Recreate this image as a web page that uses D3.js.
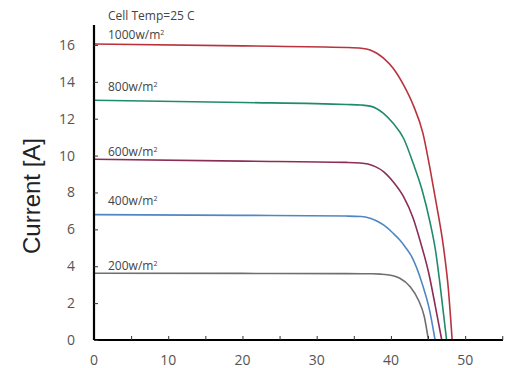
<!DOCTYPE html>
<html>
<head>
<meta charset="utf-8">
<script src="https://cdn.jsdelivr.net/npm/d3@7"></script>
<style>
  body { margin: 0; background: #fff; }
  svg { display: block; }
</style>
</head>
<body>
<svg width="512" height="368"></svg>
<script>
// I-V curves, values
const labels = ["1000w/m", "800w/m", "600w/m", "400w/m", "200w/m"];
const colors = ["#b8333d", "#1f8a6c", "#8c2d57", "#4f86c4", "#6f6f6f"];

const volt1000 = [0, 20, 34, 36.0, 37.2, 38.1, 39.0, 40.3, 41.7, 43.0, 44.3, 45.3, 46.2, 47.1, 47.75, 48.25];
const amp1000  = [16.05, 15.95, 15.86, 15.82, 15.73, 15.55, 15.28, 14.73, 13.83, 12.74, 11.23, 9.22, 7.21, 4.99, 2.71, 0];

const volt800 = [0, 20, 34, 36.0, 37.2, 38.1, 39.0, 40.3, 41.7, 43.0, 44.2, 45.3, 46.0, 46.6, 47.5];
const amp800  = [13.0, 12.88, 12.77, 12.74, 12.68, 12.54, 12.29, 11.75, 10.94, 9.58, 8.13, 6.33, 4.88, 3.07, 0];

const volt600 = [0, 20, 34, 35.8, 36.9, 37.9, 39.0, 40.3, 41.7, 43.0, 43.9, 45.1, 46.0, 46.85];
const amp600  = [9.8, 9.7, 9.63, 9.6, 9.54, 9.4, 9.13, 8.58, 7.77, 6.6, 5.42, 3.62, 1.8, 0];

const volt400 = [0, 20, 34, 36.0, 37.2, 38.1, 39.0, 40.3, 41.2, 41.9, 42.8, 44.2, 45.2, 45.95];
const amp400  = [6.8, 6.76, 6.72, 6.7, 6.6, 6.45, 6.24, 5.79, 5.42, 5.06, 4.52, 3.07, 1.63, 0];

const volt200 = [0, 20, 34, 37.5, 38.6, 39.5, 40.3, 41.2, 42.6, 43.7, 44.5, 45.05];
const amp200  = [3.62, 3.61, 3.6, 3.59, 3.57, 3.54, 3.48, 3.35, 2.89, 2.17, 1.26, 0];

const xTicks = [0, 10, 20, 30, 40, 50];
const yTicks = [0, 2, 4, 6, 8, 10, 12, 14, 16];

const volts = [volt1000, volt800, volt600, volt400, volt200];
const amps = [amp1000, amp800, amp600, amp400, amp200];
// where each label sits (y value of its baseline)
const labelY = [16.3, 13.5, 9.98, 7.3, 3.79];

const margin = {top: 25, right: 9, bottom: 28, left: 94};
const width = 512 - margin.left - margin.right;
const height = 368 - margin.top - margin.bottom;

const svg = d3.select("svg");
const chart = svg.append("g")
    .attr("transform", `translate(${margin.left}, ${margin.top})`);

const x = d3.scaleLinear().domain([0, 55.1]).range([0, width]);
const y = d3.scaleLinear().domain([0, 17.08]).range([height, 0]);

const line = d3.line()
    .x(d => x(d[0]))
    .y(d => y(d[1]))
    .curve(d3.curveMonotoneX);

// curves
volts.forEach(function(v, i) {
  const pts = v.map((vv, k) => [vv, amps[i][k]]);
  chart.append("path")
      .datum(pts)
      .attr("fill", "none")
      .attr("stroke", colors[i])
      .attr("stroke-width", 1.6)
      .attr("d", line);

  const t = chart.append("text")
      .attr("x", 14)
      .attr("y", y(labelY[i]))
      .style("font-family", "Open Sans, sans-serif")
      .style("font-size", "12px")
      .style("fill", "#444")
      .text(labels[i]);
  t.append("tspan")
      .attr("dy", -4)
      .style("font-size", "7px")
      .text("2");
});

chart.append("text")
    .attr("x", 14)
    .attr("y", -5)
    .style("font-family", "Open Sans, sans-serif")
    .style("font-size", "12px")
    .style("fill", "#444")
    .text("Cell Temp=25 C");

// x axis
const xAxis = chart.append("g")
    .attr("transform", `translate(0, ${height})`)
    .call(d3.axisBottom(x).tickValues(d3.range(0, 56, 5)).tickSize(-4).tickFormat(""));
xAxis.select(".domain").attr("stroke-width", 2.2).attr("d", `M0,0H${width}`);
xAxis.selectAll(".tick line").attr("stroke", "#333");

chart.append("g").selectAll("text")
    .data(xTicks)
    .enter().append("text")
      .attr("x", d => x(d))
      .attr("y", height + 25)
      .attr("text-anchor", "middle")
      .style("font-family", "Open Sans, sans-serif")
      .style("font-size", "14px")
      .style("fill", "#555")
      .text(d => d);

// y axis
const yAxis = chart.append("g")
    .call(d3.axisLeft(y).tickValues(yTicks).tickSize(-4).tickPadding(19));
yAxis.select(".domain").attr("stroke-width", 2.2).attr("d", `M0,0V${height}`);
yAxis.selectAll(".tick line").attr("stroke", "#333");
yAxis.selectAll("text")
    .style("font-family", "Open Sans, sans-serif")
    .style("font-size", "14px")
    .style("fill", "#555");

// y axis title
svg.append("text")
    .attr("transform", "translate(40, 196) rotate(-90)")
    .attr("text-anchor", "middle")
    .style("font-family", "Liberation Sans, Arial, sans-serif")
    .style("font-size", "24px")
    .style("fill", "#222")
    .text("Current [A]");
</script>
</body>
</html>
